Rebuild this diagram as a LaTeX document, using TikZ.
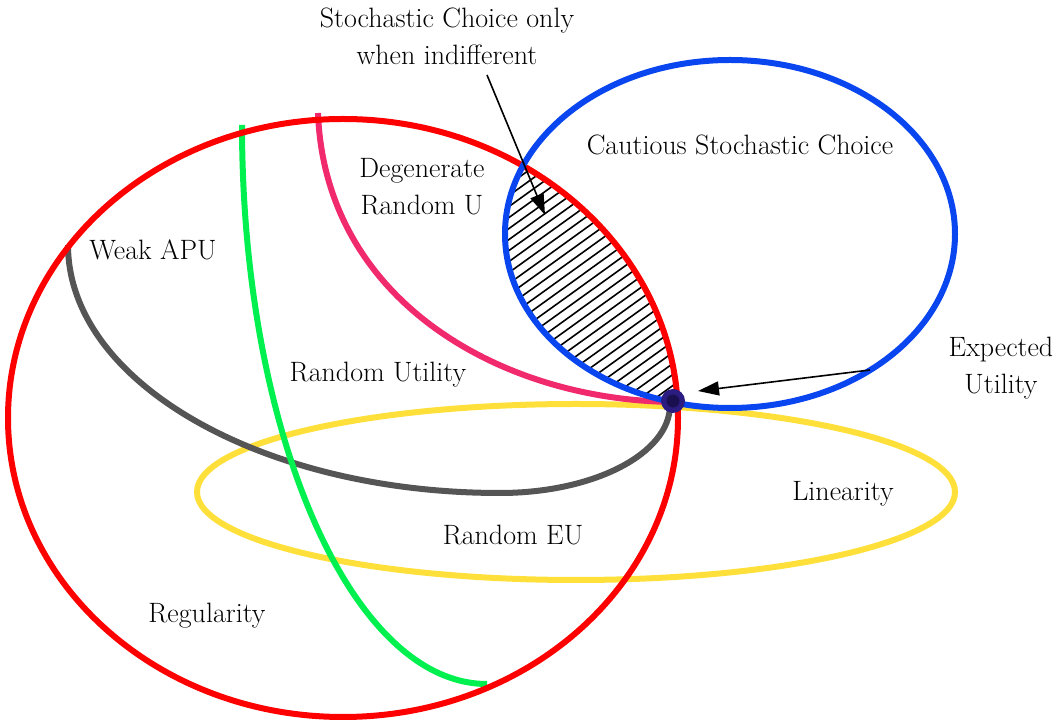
\documentclass[tikz,border=0pt]{standalone}
\usepackage{fontspec}
\usetikzlibrary{arrows.meta}
\definecolor{cred}{HTML}{FF0000}
\definecolor{cblue}{HTML}{0A46F0}
\definecolor{cyellow}{HTML}{FFE03A}
\definecolor{cgray}{HTML}{555555}
\definecolor{cpink}{HTML}{F02A6C}
\definecolor{cgreen}{HTML}{00F050}
\definecolor{cdot}{HTML}{2A1C80}
\definecolor{cdotin}{HTML}{1A1050}
\begin{document}
\begin{tikzpicture}[x=1pt,y=1pt,
  curve/.style={line width=6pt},
  lbl/.style={font=\fontsize{28}{37}\selectfont, align=center, inner sep=0pt},
  pointer/.style={line width=1.6pt, -{Triangle[length=21pt,width=14pt]}}]
\useasboundingbox (0,0) rectangle (1063,725);
% hatched lens
\begin{scope}
  \clip (343,307) ellipse [x radius=335pt, y radius=299pt];
  \clip (730,491) ellipse [x radius=225pt, y radius=174pt];
  \foreach \c in {-200,-189,...,250}
    \draw[line width=1.6pt] (480,{0.72*480+\c}) -- (700,{0.72*700+\c});
\end{scope}
% yellow
\draw[curve, cyellow] (576,233) ellipse [x radius=379pt, y radius=88pt];
% gray
\draw[curve, cgray] (68,480) arc[start angle=180, end angle=270, x radius=432pt, y radius=248pt]
   arc[start angle=270, end angle=360, x radius=170pt, y radius=88pt];
% green
\draw[curve, cgreen] (242,600) arc[start angle=180, end angle=270, x radius=245pt, y radius=559pt];
% pink
\draw[curve, cpink] (318,612) .. controls (325,425) and (500,325) .. (673,323);
% red
\draw[curve, cred] (343,307) ellipse [x radius=335pt, y radius=299pt];
% blue
\draw[curve, cblue] (730,491) ellipse [x radius=225pt, y radius=174pt];
% dot
\node[circle, fill=cdot, minimum size=24pt, inner sep=0pt] (eu) at (673,324) {};
\fill[cdotin] (eu) circle (6.5pt);
% labels
\node[lbl] (sc) at (447,689) {Stochastic Choice only\\when indifferent};
\node[lbl] (cs) at (740,580) {Cautious Stochastic Choice};
\node[lbl] (dr) at (422,538) {Degenerate\\Random U};
\node[lbl] (wa) at (153,475) {Weak APU};
\node[lbl] (ru) at (378,350) {Random Utility};
\node[lbl] (li) at (843,231) {Linearity};
\node[lbl] (re) at (513,190) {Random EU};
\node[lbl] (rg) at (207,109) {Regularity};
\node[lbl] (ex) at (1001,357) {Expected\\Utility};
% arrows
\coordinate (a1s) at (487,650);
\coordinate (a1e) at (545,510);
\coordinate (a2s) at (870,355);
\coordinate (a2e) at (698,334);
\draw[pointer] (a1s) -- (a1e);
\draw[pointer] (a2s) -- (a2e);
\end{tikzpicture}
\end{document}
